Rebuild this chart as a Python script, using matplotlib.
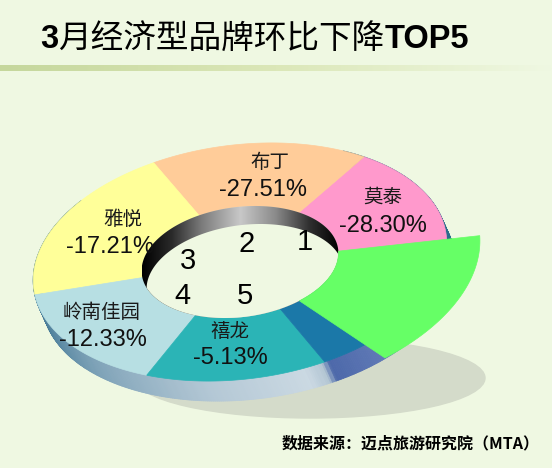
import numpy as np
import matplotlib
matplotlib.use("Agg")
import matplotlib.pyplot as plt
from matplotlib.colors import LinearSegmentedColormap
from matplotlib.collections import PolyCollection
from matplotlib.patches import Polygon, Ellipse
from matplotlib.path import Path

plt.rcParams['font.family'] = ['Liberation Sans', 'Noto Sans CJK SC', 'DejaVu Sans']

# data
brands = ['莫泰', '布丁', '雅悦', '岭南佳园', '禧龙']
changes = [-28.30, -27.51, -17.21, -12.33, -5.13]
ranks = [1, 2, 3, 4, 5]
# ring slices: start / end angle (deg) and colour
slice_start = [-30, 49, 110.5, 183, 239, 290]
slice_end = [49, 110.5, 183, 239, 290, 330]
slice_color = ['#ff99cc', '#ffcc99', '#ffff99', '#b7dfe3', '#2bb4b6', '#1b78a8']
# pulled out green piece
pull_start, pull_end, pull_scale = -57, -2, 1.16

BG = '#eff8e2'

# ring geometry (pixels)
cx, cy = 240, 262
a_out, b_out = 208, 117
a_in, b_in = 99, 55
tilt = np.deg2rad(7.4)
ddx, ddy = 9, 20   # extrusion of the ring


def pt(t, a, b, dx=0, dy=0):
    t = np.deg2rad(t)
    x1 = a * np.cos(t)
    y1 = b * np.sin(t)
    X = cx + x1 * np.cos(tilt) - y1 * np.sin(tilt) + dx
    Y = cy - (x1 * np.sin(tilt) + y1 * np.cos(tilt)) + dy
    return X, Y


def ring_piece(t0, t1, ai, bi, ao, bo):
    ts = np.linspace(t0, t1, 80)
    xo, yo = pt(ts, ao, bo)
    xi, yi = pt(ts[::-1], ai, bi)
    return np.column_stack([np.r_[xo, xi], np.r_[yo, yi]])


fig = plt.figure(figsize=(5.52, 4.68), dpi=100)
fig.patch.set_facecolor(BG)
ax = fig.add_axes([0, 0, 1, 1])
ax.set_xlim(0, 552)
ax.set_ylim(468, 0)
ax.axis('off')
ax.set_facecolor(BG)

# title underline
grad = np.linspace(0, 1, 256).reshape(1, -1)
line_cmap = LinearSegmentedColormap.from_list('ln', ['#c5d79c', '#dbe7b8', BG])
ax.imshow(grad, cmap=line_cmap, extent=(0, 552, 71, 65), aspect='auto', zorder=1)

# shadow
ax.add_patch(Ellipse((310, 378), 350, 80, angle=0, color='#d4dbca', zorder=1))

# outer side wall (back parts get hidden by the top surface)
side_cmap = LinearSegmentedColormap.from_list(
    'side', [(0, '#2c6888'), (0.25, '#7fa3b8'), (0.45, '#b4c8d6'),
             (0.6, '#cbd9e3'), (0.63, '#b2c5d3'), (0.64, '#4c68aa'),
             (0.84, '#7a90c4'), (0.85, '#2d6c8c'), (1, '#2d6c8c')])
t_lo, t_hi = 175.9, 355.9
ts = np.linspace(t_lo - 40, t_hi + 60, 500)
quads, cols = [], []
for t0, t1 in zip(ts[:-1], ts[1:]):
    x0, y0 = pt(t0, a_out, b_out)
    x1, y1 = pt(t1, a_out, b_out)
    quads.append([(x0, y0), (x1, y1), (x1 + ddx, y1 + ddy), (x0 + ddx, y0 + ddy)])
    f = np.clip((0.5 * (t0 + t1) - t_lo) / (t_hi - t_lo), 0, 1)
    cols.append(side_cmap(f))
ax.add_collection(PolyCollection(quads, facecolors=cols, edgecolors=cols,
                                 linewidths=0.6, zorder=2))

# top surface
for s, e, c in zip(slice_start, slice_end, slice_color):
    ax.add_patch(Polygon(ring_piece(s, e, a_in, b_in, a_out, b_out),
                         closed=True, facecolor=c, edgecolor=c, lw=0.5, zorder=3))

# hole: inner wall and floor
hx, hy = pt(np.linspace(0, 360, 200), a_in, b_in)
hole_path = Path(np.column_stack([hx, hy]), closed=True)
wall_cmap = LinearSegmentedColormap.from_list(
    'wall', [(0, '#000000'), (0.15, '#2a2a2a'), (0.3, '#7a7a7a'),
             (0.5, '#c8c8c8'), (0.68, '#8a8a8a'), (0.85, '#303030'), (1, '#000000')])
im = ax.imshow(grad, cmap=wall_cmap, extent=(hx.min(), hx.max(), hy.max(), hy.min()),
               aspect='auto', zorder=4)
im.set_clip_path(hole_path, transform=ax.transData)
fx, fy = pt(np.linspace(0, 360, 200), a_in, b_in, 5, ddy - 2)
floor = Polygon(np.column_stack([fx, fy]), closed=True, facecolor=BG, edgecolor='none', zorder=5)
ax.add_patch(floor)
floor.set_clip_path(hole_path, transform=ax.transData)

# pulled out piece
ax.add_patch(Polygon(ring_piece(pull_start, pull_end, a_in, b_in,
                                a_out * pull_scale, b_out * pull_scale),
                     closed=True, facecolor='#66ff66', edgecolor='#66ff66', lw=0.5, zorder=6))

# slice labels
name_xy = [(383, 198), (270, 163), (123, 220), (102, 313), (230, 332)]
value_xy = [(383, 226), (263, 190), (110, 247), (103, 340), (230, 358)]
for name, v, (nx, ny), (vx, vy) in zip(brands, changes, name_xy, value_xy):
    ax.text(nx, ny, name, ha='center', va='center', fontsize=14,
            color='#1a1a1a', zorder=7)
    ax.text(vx, vy, f"{v:.2f}%", ha='center', va='center', fontsize=17,
            color='#111111', zorder=7)

# rank numbers in the hole
rank_xy = [(305, 242), (247, 244), (188, 261), (182, 296), (245, 296)]
for r, (x, y) in zip(ranks, rank_xy):
    ax.text(x, y, str(r), ha='center', va='center', fontsize=21, color='black', zorder=7)

# title: mixed weights
pieces = [("3", 'bold'), ("月经济型品牌环比下降", 'normal'), ("TOP5", 'bold')]
fig.canvas.draw()
renderer = fig.canvas.get_renderer()
x = 40
for txt, w in pieces:
    t = ax.text(x, 39, txt, ha='left', va='center', fontsize=23.5, fontweight=w,
                color='black', zorder=7)
    bb = t.get_window_extent(renderer=renderer)
    x += bb.width

ax.text(540, 443, "数据来源：迈点旅游研究院（MTA）", ha='right', va='center',
        fontsize=11.5, fontweight='bold', color='black',
        family=['Noto Sans CJK SC', 'Liberation Sans'], zorder=7)

fig.savefig('out.png', dpi=100, facecolor=BG)
